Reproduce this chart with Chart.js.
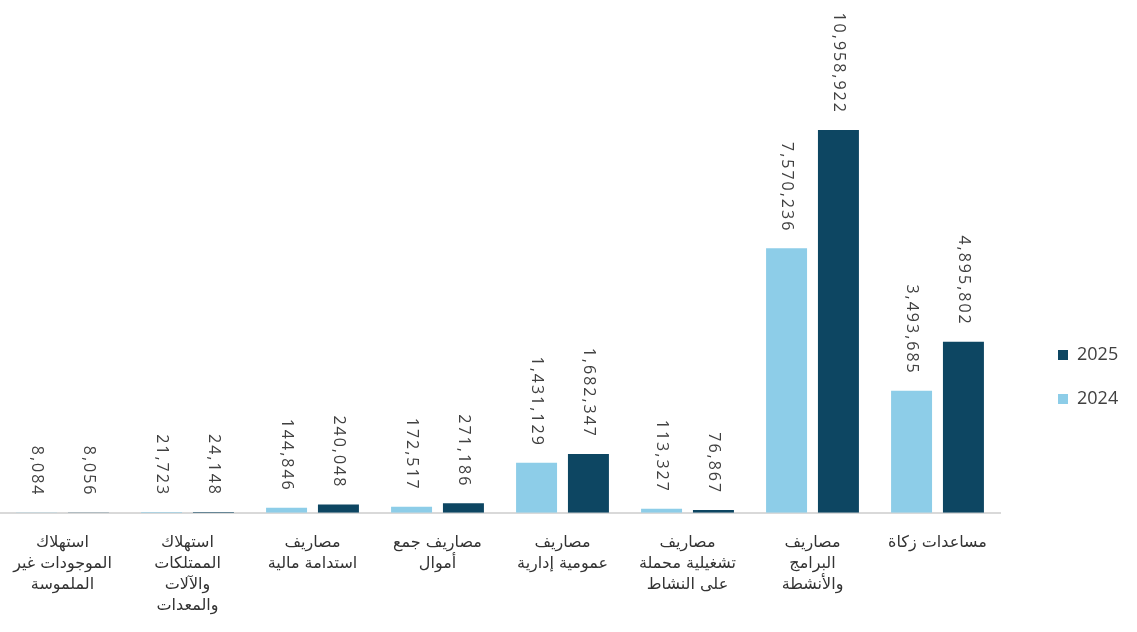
<!DOCTYPE html>
<html lang="ar">
<head>
<meta charset="utf-8">
<script src="https://cdn.jsdelivr.net/npm/chart.js@4"></script>
<style>
  html, body { margin: 0; padding: 0; background: #ffffff; }
  #wrap { width: 1137px; height: 632px; }
</style>
</head>
<body>
<div id="wrap"><canvas id="expChart"></canvas></div>
<script>
// category labels, split into the lines shown under each pair of bars
const categories = [
    ['استهلاك', 'الموجودات غير', 'الملموسة'],
    ['استهلاك', 'الممتلكات', 'والآلات', 'والمعدات'],
    ['مصاريف', 'استدامة مالية'],
    ['مصاريف جمع', 'أموال'],
    ['مصاريف', 'عمومية إدارية'],
    ['مصاريف', 'تشغيلية محملة', 'على النشاط'],
    ['مصاريف', 'البرامج', 'والأنشطة'],
    ['مساعدات زكاة']
];
const values2024 = [8084, 21723, 144846, 172517, 1431129, 113327, 7570236, 3493685];
const values2025 = [8056, 24148, 240048, 271186, 1682347, 76867, 10958922, 4895802];
const seriesNames = ['2024', '2025'];

const lightBlue = '#8dcde8';
const darkBlue  = '#0d4662';

// rotated value labels above each bar
const barValueLabels = {
    id: 'barValueLabels',
    afterDatasetsDraw(chart) {
        const ctx = chart.ctx;
        ctx.save();
        ctx.font = '16px "Open Sans"';
        ctx.letterSpacing = '2px';
        ctx.fillStyle = '#404040';
        ctx.textAlign = 'right';
        ctx.textBaseline = 'middle';
        chart.data.datasets.forEach((ds, i) => {
            chart.getDatasetMeta(i).data.forEach((bar, j) => {
                ctx.save();
                ctx.translate(bar.x, bar.y - 16);
                ctx.rotate(Math.PI / 2);
                ctx.fillText(ds.data[j].toLocaleString('en-US'), 0, 0);
                ctx.restore();
            });
        });
        ctx.restore();
    }
};

// widen the legend box and move it so the keys sit where the reference has them
const legendPlacement = {
    id: 'legendPlacement',
    beforeLayout(chart) {
        const lg = chart.legend;
        if (lg && !lg._patched) {
            const fit = lg.fit.bind(lg);
            lg.fit = function () { fit(); this.width = 137; };
            lg._patched = true;
        }
    },
    afterLayout(chart) {
        if (chart.legend) {
            chart.legend.left += 32;
            chart.legend.top += 4;
            chart.legend.bottom += 4;
        }
    }
};

new Chart(document.getElementById('expChart'), {
    type: 'bar',
    data: {
        labels: categories,
        datasets: [
            {
                label: seriesNames[0],
                data: values2024,
                backgroundColor: lightBlue,
                categoryPercentage: 0.83,
                barPercentage: 0.79
            },
            {
                label: seriesNames[1],
                data: values2025,
                backgroundColor: darkBlue,
                categoryPercentage: 0.83,
                barPercentage: 0.79
            }
        ]
    },
    options: {
        responsive: true,
        maintainAspectRatio: false,
        animation: false,
        layout: { padding: { top: 118, left: 0, right: 0, bottom: 4 } },
        plugins: {
            legend: {
                position: 'right',
                reverse: true,
                labels: {
                    boxWidth: 10,
                    boxHeight: 10,
                    padding: 26,
                    color: '#404040',
                    font: { family: 'Open Sans', size: 18 }
                }
            },
            tooltip: { enabled: false }
        },
        scales: {
            x: {
                grid: { display: false },
                border: { display: true, color: '#d9d9d9', width: 2 },
                ticks: {
                    maxRotation: 0,
                    autoSkip: false,
                    padding: 12,
                    color: '#333333',
                    font: { family: 'DejaVu Sans', size: 16, lineHeight: 1.3 }
                }
            },
            y: {
                display: false,
                beginAtZero: true,
                max: 11300000
            }
        }
    },
    plugins: [barValueLabels, legendPlacement]
});
</script>
</body>
</html>
